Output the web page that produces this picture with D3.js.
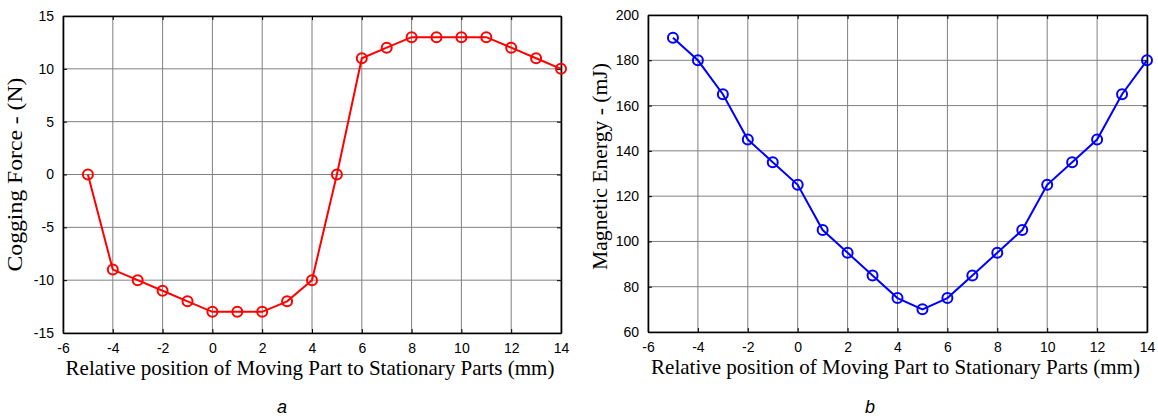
<!DOCTYPE html>
<html>
<head>
<meta charset="utf-8">
<style>
  body { margin: 0; background: #fff; }
  svg { display: block; }
</style>
</head>
<body>
<div id="chart"></div>
<script src="https://d3js.org/d3.v7.min.js"></script>
<script>
  // positions along the moving part (mm)
  const positions = [-5, -4, -3, -2, -1, 0, 1, 2, 3, 4, 5, 6, 7, 8, 9, 10, 11, 12, 13, 14];
  const coggingForce = [0, -9, -10, -11, -12, -13, -13, -13, -12, -10, 0, 11, 12, 13, 13, 13, 13, 12, 11, 10];
  const magneticEnergy = [190, 180, 165, 145, 135, 125, 105, 95, 85, 75, 70, 75, 85, 95, 105, 125, 135, 145, 165, 180];

  const xTicks = [-6, -4, -2, 0, 2, 4, 6, 8, 10, 12, 14];
  const forceTicks = [-15, -10, -5, 0, 5, 10, 15];
  const energyTicks = [60, 80, 100, 120, 140, 160, 180, 200];

  const xLabel = "Relative position of Moving Part to Stationary Parts (mm)";

  const serif = "'Liberation Serif', 'Times New Roman', serif";
  const sans = "Arial, 'Liberation Sans', sans-serif";

  const svg = d3.select("#chart").append("svg")
    .attr("width", 1158)
    .attr("height", 418);

  function drawPanel(opts) {
    const { left, top, width, height, values, yDomain, yTicks, color, yLabel, yLabelLen, yLabelShift, caption, captionX } = opts;

    const x = d3.scaleLinear().domain([-6, 14]).range([0, width]);
    const y = d3.scaleLinear().domain(yDomain).range([height, 0]);

    const g = svg.append("g").attr("transform", `translate(${left},${top})`);

    // grid
    g.append("g")
      .selectAll("line")
      .data(xTicks)
      .enter()
      .append("line")
      .attr("x1", d => x(d)).attr("x2", d => x(d))
      .attr("y1", 0).attr("y2", height)
      .attr("stroke", "#808080")
      .attr("stroke-width", 1);
    g.append("g")
      .selectAll("line")
      .data(yTicks)
      .enter()
      .append("line")
      .attr("x1", 0).attr("x2", width)
      .attr("y1", d => y(d)).attr("y2", d => y(d))
      .attr("stroke", "#808080")
      .attr("stroke-width", 1);

    // box axes, ticks pointing inward
    const fmt = d => String(d);
    g.append("g")
      .attr("transform", `translate(0,${height})`)
      .call(d3.axisBottom(x).tickValues(xTicks).tickFormat(fmt).tickSizeInner(-4).tickSizeOuter(0).tickPadding(10));
    g.append("g")
      .call(d3.axisLeft(y).tickValues(yTicks).tickFormat(fmt).tickSizeInner(-4).tickSizeOuter(0).tickPadding(9));
    g.append("g")
      .call(d3.axisTop(x).tickValues(xTicks).tickSizeInner(-4).tickSizeOuter(0).tickFormat(""));
    g.append("g")
      .attr("transform", `translate(${width},0)`)
      .call(d3.axisRight(y).tickValues(yTicks).tickSizeInner(-4).tickSizeOuter(0).tickFormat(""));

    g.selectAll(".domain").attr("stroke", "#000").attr("stroke-width", 1.6);
    g.selectAll(".tick line").attr("stroke", "#000");
    g.selectAll(".tick text")
      .attr("font-family", sans)
      .attr("font-size", 14)
      .attr("fill", "#000");

    // series line + open circle markers
    const line = d3.line()
      .x((d, i) => x(positions[i]))
      .y(d => y(d));

    g.append("path")
      .datum(values)
      .attr("fill", "none")
      .attr("stroke", color)
      .attr("stroke-width", 2)
      .attr("d", line);

    g.append("g")
      .selectAll("circle")
      .data(values)
      .enter()
      .append("circle")
      .attr("cx", (d, i) => x(positions[i]))
      .attr("cy", d => y(d))
      .attr("r", 5)
      .attr("fill", "none")
      .attr("stroke", color)
      .attr("stroke-width", 2);

    // axis titles
    g.append("text")
      .attr("x", width / 2 - 2)
      .attr("y", height + 42)
      .attr("text-anchor", "middle")
      .attr("font-family", serif)
      .attr("font-size", 21)
      .text(xLabel);

    g.append("text")
      .attr("transform", `translate(${-41},${height / 2 + yLabelShift}) rotate(-90)`)
      .attr("text-anchor", "middle")
      .attr("font-family", serif)
      .attr("font-size", 21)
      .attr("textLength", yLabelLen)
      .attr("lengthAdjust", "spacingAndGlyphs")
      .text(yLabel);

    svg.append("text")
      .attr("x", captionX)
      .attr("y", 413)
      .attr("text-anchor", "middle")
      .attr("font-family", sans)
      .attr("font-style", "italic")
      .attr("font-size", 18)
      .text(caption);
  }

  drawPanel({
    left: 63, top: 16, width: 498, height: 317,
    values: coggingForce, yDomain: [-15, 15], yTicks: forceTicks,
    color: "#ff0000", yLabel: "Cogging Force - (N)", yLabelLen: 194, yLabelShift: 0,
    caption: "a", captionX: 282
  });

  drawPanel({
    left: 648, top: 15, width: 499, height: 317,
    values: magneticEnergy, yDomain: [60, 200], yTicks: energyTicks,
    color: "#0000ff", yLabel: "Magnetic Energy - (mJ)", yLabelLen: 207, yLabelShift: -7,
    caption: "b", captionX: 870
  });
</script>
</body>
</html>
